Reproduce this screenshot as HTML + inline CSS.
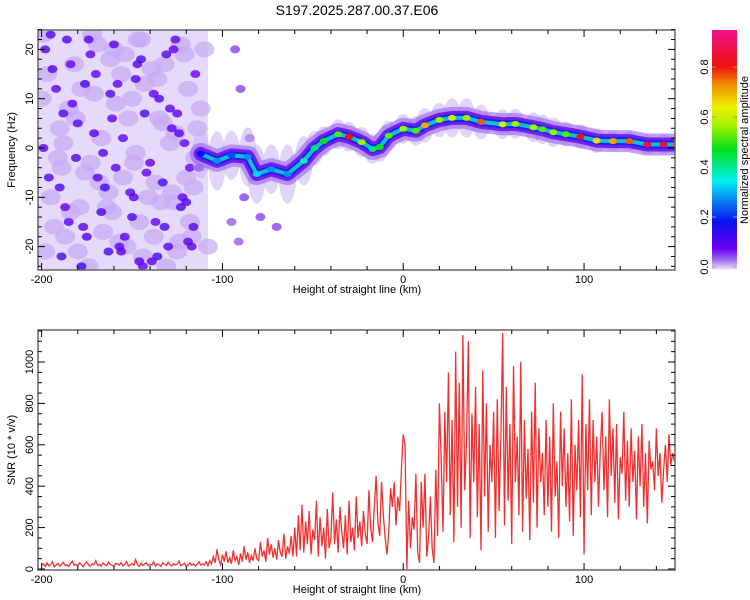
<!DOCTYPE html>
<html><head><meta charset="utf-8"><style>
html,body{margin:0;padding:0;background:#fff;width:750px;height:600px;overflow:hidden}
text{font-family:"Liberation Sans",sans-serif;fill:#000}
</style></head><body>
<svg id="c" width="750" height="600" xmlns="http://www.w3.org/2000/svg">
<defs>
<clipPath id="cp1"><rect x="38" y="30" width="637" height="240"/></clipPath>
<clipPath id="cp2"><rect x="38" y="330" width="637" height="240"/></clipPath>
<linearGradient id="cg" x1="0" y1="1" x2="0" y2="0">
<stop offset="0" stop-color="#f4eefc"/><stop offset="0.04" stop-color="#a070f0"/>
<stop offset="0.09" stop-color="#6a00f0"/><stop offset="0.2" stop-color="#0a10f0"/>
<stop offset="0.3" stop-color="#0a90f0"/><stop offset="0.37" stop-color="#00f0f0"/>
<stop offset="0.5" stop-color="#00e020"/><stop offset="0.6" stop-color="#a0f000"/>
<stop offset="0.68" stop-color="#f0f000"/><stop offset="0.77" stop-color="#f09000"/>
<stop offset="0.85" stop-color="#f01010"/><stop offset="1" stop-color="#f0108a"/>
</linearGradient>
</defs>
<text x="357" y="15" text-anchor="middle" font-size="14">S197.2025.287.00.37.E06</text>
<g id="topPlot" clip-path="url(#cp1)"></g>
<g id="topAxes"></g>
<rect x="712" y="30" width="25" height="240" fill="url(#cg)"/>
<g id="cbar"></g>
<text transform="translate(748,150) rotate(-90)" text-anchor="middle" font-size="11">Normalized spectral amplitude</text>
<g id="botPlot" clip-path="url(#cp2)"></g>
<g id="botAxes"></g>
<text x="357" y="293" text-anchor="middle" font-size="11">Height of straight line (km)</text>
<text x="357" y="593" text-anchor="middle" font-size="11">Height of straight line (km)</text>
<text transform="translate(15,150) rotate(-90)" text-anchor="middle" font-size="11">Frequency (Hz)</text>
<text transform="translate(15,450) rotate(-90)" text-anchor="middle" font-size="11">SNR (10 * v/v)</text>
</svg>
<script>
const xTicks=[-200,-100,0,100];
const fTicks=[-20,-10,0,10,20];
const snrTicks=[0,200,400,600,800,1000];
const cbTicks=[0.0,0.2,0.4,0.6,0.8];
const ridgeH=[-112,-103,-95,-86,-81,-73,-64,-55,-49,-44,-36,-30,-23,-17,-13,-8,0,7,12,20,27,35,43,55,62,72,77,83,90,98,107,116,125,135,144,151];
const ridgeF=[-1.2,-2.6,-1.5,-1.8,-5.3,-4.3,-5.3,-2.6,0,1.4,2.8,2.3,1.2,-0.2,0.2,2.5,3.9,3.5,4.6,5.7,6.1,6.1,5.3,4.8,4.9,4.2,3.8,3.2,2.8,2.3,1.5,1.4,1.4,0.7,0.7,0.7];
const ridgeA=[0.2,0.3,0.25,0.3,0.35,0.3,0.3,0.4,0.45,0.5,0.55,0.85,0.6,0.45,0.5,0.55,0.6,0.55,0.75,0.6,0.65,0.6,0.8,0.65,0.6,0.6,0.55,0.6,0.55,0.85,0.7,0.75,0.8,0.9,0.9,0.8];
const ridgeW=[5,6,5,6,6,5,6,5,3.5,3,3,3,3,3,3,3,3,3,3.5,3.5,4,4,3.5,3,3,3,3,3,2.5,2.5,2.5,2,2,2,2,2];
const noiseH=[-198,-192,-186,-180,-175,-170,-165,-160,-155,-150,-145,-140,-135,-130,-125,-120,-115,-196,-189,-183,-177,-171,-163,-158,-151,-146,-138,-132,-127,-121,-117,-194,-187,-181,-173,-167,-161,-154,-148,-142,-136,-129,-123,-118,-199,-190,-184,-178,-169,-162,-156,-149,-143,-137,-131,-124,-119,-195,-185,-176,-166,-157,-147,-139,-128,-122,-113,-188,-174,-159,-144,-133,-126,-116,-93,-90,-88,-95,-85,-91,-79,-70];
const noiseF=[20,12,22,5,-18,15,-8,21,2,-14,18,-3,10,-20,7,-11,15,-6,-22,9,-16,3,-21,13,-9,-23,11,-16,20,1,-20,16,-12,-2,19,-13,6,-18,14,-5,-22,8,-12,-4,0,-8,17,-24,-6,11,-21,-10,7,-15,19,3,-19,23,-15,13,-1,-20,17,-23,4,-10,-4,7,22,-4,-24,-7,22,-16,20,12,-10,-15,2,-19,-14,-16];
const noiseA=[0.12,0.1,0.13,0.11,0.12,0.1,0.14,0.11,0.1,0.12,0.13,0.1,0.12,0.11,0.1,0.12,0.09,0.12,0.13,0.1,0.11,0.12,0.14,0.1,0.11,0.12,0.1,0.13,0.11,0.1,0.1,0.12,0.1,0.13,0.11,0.12,0.1,0.11,0.12,0.1,0.13,0.11,0.12,0.1,0.11,0.12,0.1,0.14,0.11,0.12,0.1,0.11,0.13,0.1,0.12,0.11,0.1,0.12,0.11,0.13,0.12,0.1,0.11,0.12,0.1,0.11,0.1,0.12,0.11,0.12,0.1,0.13,0.1,0.11,0.06,0.06,0.06,0.05,0.06,0.05,0.06,0.06];
const noise2H=[-197,-191,-185,-179,-172,-168,-162,-157,-152,-147,-141,-136,-131,-126,-121,-116,-111,-200,-193,-188,-182,-176,-169,-164,-159,-153,-148,-143,-138,-133,-128,-123,-118,-112,-198,-190,-184,-178,-173,-166,-160,-155,-150,-144,-139,-134,-129,-124,-119,-114,-195,-187,-181,-174,-167,-161,-156,-149,-145,-137,-132,-125,-120,-115,-110,-199,-189,-180,-171,-163,-154,-146,-135,-127,-117,-108];
const noise2F=[15,-2,8,-12,23,-7,18,-19,6,22,-10,14,-24,3,19,-8,-3,10,-16,1,17,-5,21,-12,9,-20,-1,13,-18,5,-9,21,-15,8,-21,4,-13,12,-3,-17,20,-6,10,-22,16,-11,1,-19,12,4,-10,-18,6,-24,2,-13,15,-3,22,-7,17,-21,-6,-2,20,23,-4,-21,11,-9,19,-15,6,-11,-18,-20];
const snrStart=-200;
const snrVals=[18,25,12,30,15,22,35,10,20,28,14,24,32,16,20,12,27,38,18,22,
15,30,20,11,26,34,19,14,25,21,40,17,23,13,29,20,16,33,22,18,
12,27,24,19,31,15,22,36,14,20,26,18,45,21,13,28,17,24,30,16,
22,19,35,14,25,20,12,29,23,17,33,21,15,26,19,24,38,16,22,27,
13,20,30,18,25,15,22,35,19,24,
20,35,15,40,25,60,30,95,45,20,70,35,85,30,55,25,90,40,60,20,75,35,110,45,80,30,65,40,100,50,
40,130,60,90,35,150,70,120,55,100,45,140,80,60,170,50,110,75,160,60,
200,60,260,90,310,80,230,120,280,70,190,140,330,60,250,110,200,50,290,100,
150,370,120,240,80,300,180,100,260,70,330,130,200,90,350,150,230,110,280,170,
120,380,200,130,300,450,220,160,420,260,150,70,180,390,300,420,210,350,280,480,
650,600,0,330,100,250,190,460,80,30,420,200,460,60,150,350,100,30,480,160,
800,520,180,760,420,950,260,720,130,1050,300,900,200,1130,380,
620,1100,150,750,420,880,250,700,90,960,350,800,180,600,420,760,150,820,280,640,
1140,210,880,330,700,120,980,420,640,260,1000,180,720,340,580,140,760,320,900,200,
680,420,560,260,720,300,640,180,800,350,520,150,760,400,680,300,560,230,820,160,
600,380,720,250,940,
70,700,380,820,260,720,420,640,300,580,760,380,640,250,820,450,680,320,700,240,
540,460,760,330,620,300,680,420,570,240,640,400,700,300,560,220,620,480,520,380,
680,450,560,320,480,600,420,650,500,560,520];

const NS='http://www.w3.org/2000/svg';
const X0=38,X1=675,H0=-202,H1=150.3;
const xs=h=>X0+(h-H0)/(H1-H0)*(X1-X0);
const yf=f=>148-f*4.93;
const ys=v=>569-v*0.207;
const yc=a=>267-a*250;
function mk(p,t,at){const e=document.createElementNS(NS,t);for(const k in at)e.setAttribute(k,at[k]);p.appendChild(e);return e;}
const stops=[[0,[244,238,252]],[0.04,[160,112,240]],[0.09,[106,0,240]],[0.2,[10,16,240]],[0.3,[10,144,240]],[0.37,[0,240,240]],[0.5,[0,224,32]],[0.6,[160,240,0]],[0.68,[240,240,0]],[0.77,[240,144,0]],[0.85,[240,16,16]],[1,[240,16,138]]];
function cmap(a){for(let i=1;i<stops.length;i++){if(a<=stops[i][0]){const a0=stops[i-1][0],c0=stops[i-1][1],a1=stops[i][0],c1=stops[i][1];const t=(a-a0)/(a1-a0);return 'rgb('+c0.map((c,j)=>Math.round(c+(c1[j]-c)*t)).join(',')+')';}}return 'rgb(240,16,138)';}

const topG=document.getElementById('topPlot');
const bg=mk(topG,'rect',{x:X0,y:30,width:xs(-108)-X0,height:240,fill:'#e6dafa'});


noise2H.forEach((h,i)=>{
  const c=mk(topG,'ellipse',{cx:xs(h),cy:yf(noise2F[i]),rx:10,ry:8,fill:'#c4a8f3',opacity:0.7});
  
  
});
noiseH.forEach((h,i)=>{
  const c=mk(topG,'ellipse',{cx:xs(h),cy:yf(noiseF[i]),rx:5,ry:4,fill:cmap(noiseA[i]),opacity:0.8});
  
  
});
const pts=ridgeH.map((h,i)=>xs(h)+','+yf(ridgeF[i])).join(' ');
ridgeH.forEach((h,i)=>{
  const c=mk(topG,'ellipse',{cx:xs(h),cy:yf(ridgeF[i]),rx:9,ry:ridgeW[i]*4.93,fill:'#c6b0f2',opacity:0.55});
  
  
});
const l0=mk(topG,'polyline',{points:pts,fill:'none',stroke:'#9a60f0','stroke-width':22,'stroke-linejoin':'round','stroke-linecap':'round',opacity:0.6});


const l1=mk(topG,'polyline',{points:pts,fill:'none',stroke:'#7020f0','stroke-width':14,'stroke-linejoin':'round','stroke-linecap':'round'});


const l2=mk(topG,'polyline',{points:pts,fill:'none',stroke:'#2020f0','stroke-width':8,'stroke-linejoin':'round','stroke-linecap':'round'});


const l3=mk(topG,'polyline',{points:pts,fill:'none',stroke:'#10c0d0','stroke-width':4,'stroke-linejoin':'round'});


ridgeH.forEach((h,i)=>{
  const c=mk(topG,'ellipse',{cx:xs(h),cy:yf(ridgeF[i]),rx:4,ry:3,fill:cmap(ridgeA[i])});
  
  
});

const botG=document.getElementById('botPlot');
const sp=snrVals.map((v,i)=>xs(snrStart+i)+','+ys(v)).join(' ');
const sl=mk(botG,'polyline',{points:sp,fill:'none',stroke:'#f03030','stroke-width':1.3});



function axes(gid,y0,y1,yticks,ymap,ystep,yfrom,yto){
  const g=document.getElementById(gid);
  const fr=mk(g,'rect',{x:X0,y:y0,width:X1-X0,height:y1-y0,fill:'none',stroke:'#666','stroke-width':1.5});
  
  
  for(let h=-200;h<=150;h+=20){
    const mj=h%100===0,L=mj?7:4;
    mk(g,'line',{x1:xs(h),x2:xs(h),y1:y1,y2:y1-L,stroke:'#000'});
    mk(g,'line',{x1:xs(h),x2:xs(h),y1:y0,y2:y0+L,stroke:'#000'});
  }
  xTicks.forEach(h=>{
    const t=mk(g,'text',{x:xs(h),y:y1+13,'text-anchor':'middle','font-size':11});
    t.textContent=h;
    
    
  });
  for(let v=yfrom;v<=yto;v+=ystep){
    const mj=yticks.includes(v),L=mj?7:4;
    mk(g,'line',{x1:X0,x2:X0+L,y1:ymap(v),y2:ymap(v),stroke:'#000'});
    mk(g,'line',{x1:X1,x2:X1-L,y1:ymap(v),y2:ymap(v),stroke:'#000'});
  }
  yticks.forEach(v=>{
    const t=mk(g,'text',{transform:'translate('+(X0-5)+','+ymap(v)+') rotate(-90)','text-anchor':'middle','font-size':11});
    t.textContent=v;
    
    
  });
}
axes('topAxes',30,270,fTicks,yf,2,-24,24);
axes('botAxes',330,570,snrTicks,ys,50,0,1150);
const cb=document.getElementById('cbar');
cbTicks.forEach(a=>{
  mk(cb,'line',{x1:712,x2:716,y1:yc(a),y2:yc(a),stroke:'#999'});
  mk(cb,'line',{x1:733,x2:737,y1:yc(a),y2:yc(a),stroke:'#999'});
  const t=mk(cb,'text',{transform:'translate(708,'+yc(a)+') rotate(-90)','text-anchor':'middle','font-size':11});
  t.textContent=a.toFixed(1);
  
  
});
</script>
</body></html>
